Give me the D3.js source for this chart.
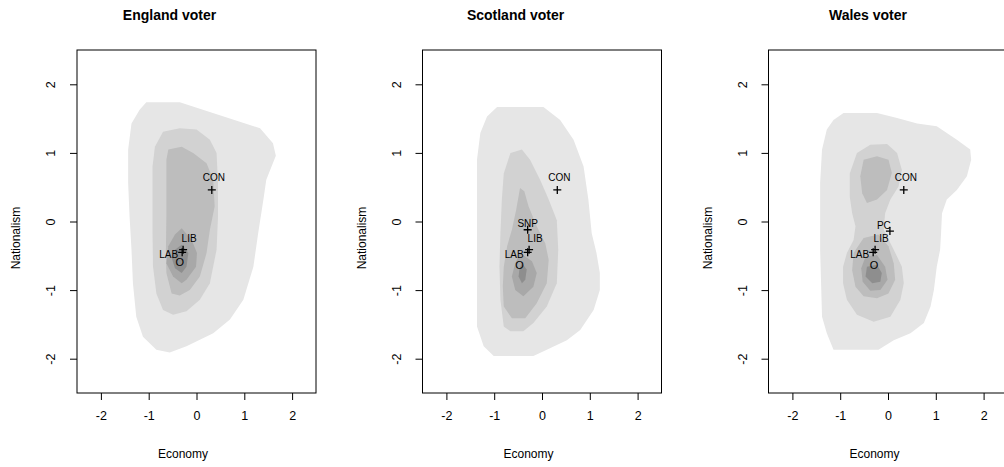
<!DOCTYPE html>
<html>
<head>
<meta charset="utf-8">
<script src="https://cdn.jsdelivr.net/npm/d3@7"></script>
<style>
  body { margin: 0; background: #fff; }
  svg { display: block; font-family: "Liberation Sans", Arial, sans-serif; }
</style>
</head>
<body>
<div id="app"></div>
<script>
// tick values
const xTicks = [-2, -1, 0, 1, 2]
const yTicks = [-2, -1, 0, 1, 2]

// contour outlines, [economy, nationalism]
const englandL1 = [[-1.05,1.74],[-0.35,1.74],[1.33,1.36],[1.6,1.14],[1.66,0.96],[1.46,0.61],[1.4,0.32],[1.29,-0.17],[1.19,-0.66],[0.98,-1.14],[0.7,-1.43],[0.35,-1.63],[-0.21,-1.82],[-0.56,-1.91],[-0.84,-1.87],[-1.12,-1.68],[-1.26,-1.39],[-1.33,-0.9],[-1.36,-0.41],[-1.4,0.07],[-1.43,0.56],[-1.43,1.05],[-1.36,1.43],[-1.19,1.63]]
const englandL2 = [[-0.7,1.31],[-0.35,1.36],[0,1.34],[0.28,1.19],[0.42,1.0],[0.45,0.56],[0.45,0.07],[0.42,-0.41],[0.28,-0.9],[0.07,-1.14],[-0.21,-1.31],[-0.49,-1.36],[-0.7,-1.29],[-0.84,-1.05],[-0.91,-0.66],[-0.92,-0.17],[-0.92,0.32],[-0.92,0.8],[-0.87,1.09]]
const englandL3 = [[-0.59,1.05],[-0.31,1.09],[-0.07,1.0],[0.21,0.85],[0.35,0.61],[0.38,0.22],[0.28,-0.12],[0.21,-0.46],[0.07,-0.8],[-0.14,-1.0],[-0.35,-1.08],[-0.52,-1.05],[-0.63,-0.75],[-0.64,-0.41],[-0.63,0.07],[-0.63,0.56],[-0.63,0.9]]
const englandL4 = [[-0.31,-0.1],[-0.1,-0.27],[0.01,-0.46],[-0.01,-0.66],[-0.21,-0.85],[-0.31,-0.9],[-0.49,-0.8],[-0.63,-0.61],[-0.59,-0.36],[-0.45,-0.19]]
const englandL5 = [[-0.31,-0.34],[-0.17,-0.46],[-0.21,-0.66],[-0.31,-0.75],[-0.45,-0.68],[-0.52,-0.53],[-0.45,-0.41]]

const scotlandL1 = [[-0.94,1.67],[0.03,1.67],[0.38,1.48],[0.66,1.19],[0.87,0.8],[0.97,0.32],[1.04,-0.17],[1.14,-0.46],[1.21,-0.75],[1.21,-1.0],[1.08,-1.29],[0.8,-1.58],[0.52,-1.73],[0.1,-1.87],[-0.18,-1.96],[-1.01,-1.96],[-1.22,-1.82],[-1.36,-1.53],[-1.36,-0.66],[-1.36,0.32],[-1.36,0.9],[-1.29,1.29],[-1.15,1.53]]
const scotlandL2 = [[-0.66,1.0],[-0.42,1.05],[-0.25,0.9],[-0.04,0.61],[0.14,0.32],[0.31,0.02],[0.34,-0.41],[0.31,-0.9],[0.1,-1.24],[-0.18,-1.48],[-0.39,-1.6],[-0.66,-1.6],[-0.8,-1.53],[-0.87,-1.14],[-0.89,-0.66],[-0.87,-0.17],[-0.84,0.32],[-0.8,0.7]]
const scotlandL3 = [[-0.46,0.49],[-0.37,0.44],[-0.28,0.22],[-0.11,-0.07],[0.07,-0.32],[0.14,-0.56],[0.1,-0.9],[-0.11,-1.19],[-0.35,-1.41],[-0.63,-1.41],[-0.8,-1.24],[-0.82,-0.95],[-0.8,-0.66],[-0.73,-0.36],[-0.63,-0.12],[-0.54,0.17]]
const scotlandL4 = [[-0.46,-0.46],[-0.21,-0.58],[-0.11,-0.75],[-0.18,-0.95],[-0.39,-1.09],[-0.56,-1.0],[-0.63,-0.8],[-0.56,-0.61]]
const scotlandL5 = [[-0.42,-0.61],[-0.32,-0.7],[-0.35,-0.85],[-0.42,-0.9],[-0.49,-0.8],[-0.47,-0.68]]

const walesL1 = [[-0.93,1.58],[-0.23,1.58],[0.19,1.51],[0.61,1.43],[1.02,1.39],[1.44,1.19],[1.72,1.05],[1.74,0.9],[1.65,0.66],[1.44,0.46],[1.23,0.32],[1.13,0.12],[1.11,-0.17],[1.09,-0.41],[1.02,-0.66],[0.96,-1.0],[0.89,-1.24],[0.75,-1.48],[0.47,-1.63],[0.12,-1.73],[-0.2,-1.87],[-1.14,-1.87],[-1.28,-1.63],[-1.38,-1.39],[-1.42,-0.41],[-1.42,0.56],[-1.38,1.05],[-1.28,1.34],[-1.14,1.48]]
const walesL2 = [[-0.65,1.0],[-0.37,1.12],[-0.02,1.13],[0.19,1.0],[0.29,0.75],[0.22,0.51],[0.05,0.32],[-0.06,0.12],[-0.09,-0.12],[0.12,-0.41],[0.29,-0.66],[0.33,-0.9],[0.26,-1.14],[0.05,-1.39],[-0.3,-1.46],[-0.65,-1.36],[-0.86,-1.14],[-0.94,-0.9],[-0.94,-0.66],[-0.86,-0.46],[-0.72,-0.27],[-0.68,-0.07],[-0.75,0.12],[-0.8,0.36],[-0.8,0.7]]
const walesL3a = [[-0.51,0.9],[-0.23,0.95],[0.01,0.9],[0.08,0.71],[-0.02,0.46],[-0.23,0.32],[-0.44,0.27],[-0.54,0.41],[-0.58,0.66]]
const walesL3b = [[-0.51,-0.24],[-0.2,-0.19],[0.01,-0.36],[0.12,-0.61],[0.15,-0.85],[0.01,-1.05],[-0.23,-1.12],[-0.51,-1.09],[-0.68,-0.95],[-0.75,-0.71],[-0.72,-0.46]]
const walesL4 = [[-0.47,-0.51],[-0.23,-0.49],[-0.06,-0.66],[-0.01,-0.85],[-0.16,-1.0],[-0.37,-1.01],[-0.53,-0.88],[-0.56,-0.68]]
const walesL5 = [[-0.44,-0.66],[-0.23,-0.63],[-0.13,-0.75],[-0.16,-0.88],[-0.33,-0.9],[-0.47,-0.8]]

// party positions
const englandParties = ["CON", "LIB", "LAB"]
const englandEcon = [0.32, -0.28, -0.3]
const englandNat = [0.46, -0.41, -0.45]
const scotlandParties = ["CON", "SNP", "LIB", "LAB"]
const scotlandEcon = [0.32, -0.3, -0.27, -0.3]
const scotlandNat = [0.46, -0.12, -0.41, -0.45]
const walesParties = ["CON", "PC", "LIB", "LAB"]
const walesEcon = [0.33, 0.04, -0.27, -0.31]
const walesNat = [0.46, -0.14, -0.41, -0.45]

// voter mean ("O")
const voterEcon = [-0.35, -0.47, -0.29]
const voterNat = [-0.6, -0.65, -0.65]

const levelColors = ["#e6e6e6", "#d2d2d2", "#bdbdbd", "#a8a8a8", "#8e8e8e"]

// label nudges in px (style only)
const labelOffset = {
  CON: [2, -9, "middle"], LIB: [6, -8, "middle"], LAB: [-4, 6, "end"],
  SNP: [0, -3, "middle"], PC: [-6, -2, "middle"]
}

const panels = [
  { title: "England voter", left: 77, titleX: 92.5, levels: [[englandL1],[englandL2],[englandL3],[englandL4],[englandL5]],
    names: englandParties, econ: englandEcon, nat: englandNat },
  { title: "Scotland voter", left: 422.5, titleX: 93, levels: [[scotlandL1],[scotlandL2],[scotlandL3],[scotlandL4],[scotlandL5]],
    names: scotlandParties, econ: scotlandEcon, nat: scotlandNat },
  { title: "Wales voter", left: 768.5, titleX: 99.5, levels: [[walesL1],[walesL2],[walesL3a, walesL3b],[walesL4],[walesL5]],
    names: walesParties, econ: walesEcon, nat: walesNat }
]

const width = 1004, height = 467
const boxW = 239, boxTop = 50, boxH = 343

const svg = d3.select("#app").append("svg")
  .attr("width", width)
  .attr("height", height)

panels.forEach((p, pi) => {
  const x = d3.scaleLinear().domain([-2.5, 2.5]).range([0, boxW])
  const y = d3.scaleLinear().domain([-2.5, 2.5]).range([boxH, 0])

  const g = svg.append("g").attr("transform", `translate(${p.left},${boxTop})`)

  const line = d3.line().x(d => x(d[0])).y(d => y(d[1])).curve(d3.curveLinearClosed)

  p.levels.forEach((polys, li) => {
    polys.forEach(poly => {
      g.append("path")
        .attr("d", line(poly))
        .attr("fill", levelColors[li])
    })
  })

  // axes
  const xAxis = g.append("g")
    .attr("transform", `translate(0,${boxH})`)
    .call(d3.axisBottom(x).tickValues(xTicks).tickSize(7).tickPadding(11).tickFormat(d => String(d)))
  xAxis.select(".domain").remove()
  xAxis.selectAll("text").attr("font-size", 12.5).attr("fill", "#000").attr("font-family", "Liberation Sans, Arial, sans-serif")
  xAxis.selectAll("line").attr("stroke", "#000")

  const yAxis = g.append("g")
    .call(d3.axisLeft(y).tickValues(yTicks).tickSize(7).tickFormat(d => String(d)))
  yAxis.select(".domain").remove()
  yAxis.selectAll("line").attr("stroke", "#000")
  yAxis.selectAll("text")
    .attr("font-size", 12.5).attr("fill", "#000").attr("font-family", "Liberation Sans, Arial, sans-serif")
    .attr("text-anchor", "middle")
    .attr("x", 0).attr("dy", null)
    .attr("transform", "translate(-25,0) rotate(-90)")
    .attr("dominant-baseline", "middle")

  g.append("rect")
    .attr("width", boxW).attr("height", boxH)
    .attr("fill", "none").attr("stroke", "#000").attr("stroke-width", 1)

  // party markers
  p.names.forEach((name, i) => {
    const px = x(p.econ[i]), py = y(p.nat[i])
    g.append("path")
      .attr("d", `M${px - 4},${py}H${px + 4}M${px},${py - 4}V${py + 4}`)
      .attr("stroke", "#000").attr("stroke-width", 1.3)
    const off = labelOffset[name]
    g.append("text")
      .attr("x", px + off[0]).attr("y", py + off[1])
      .attr("text-anchor", off[2])
      .attr("font-size", 10)
      .text(name)
  })

  g.append("text")
    .attr("x", x(voterEcon[pi])).attr("y", y(voterNat[pi]))
    .attr("text-anchor", "middle").attr("dominant-baseline", "middle")
    .attr("font-size", 11)
    .text("O")

  // titles
  svg.append("text")
    .attr("x", p.left + p.titleX).attr("y", 20)
    .attr("text-anchor", "middle")
    .attr("font-size", 14).attr("font-weight", "bold")
    .text(p.title)

  svg.append("text")
    .attr("x", p.left + 106).attr("y", 458)
    .attr("text-anchor", "middle")
    .attr("font-size", 12)
    .text("Economy")

  svg.append("text")
    .attr("transform", `translate(${p.left - 60},238) rotate(-90)`)
    .attr("text-anchor", "middle").attr("dominant-baseline", "middle")
    .attr("font-size", 12)
    .text("Nationalism")
})
</script>
</body>
</html>
